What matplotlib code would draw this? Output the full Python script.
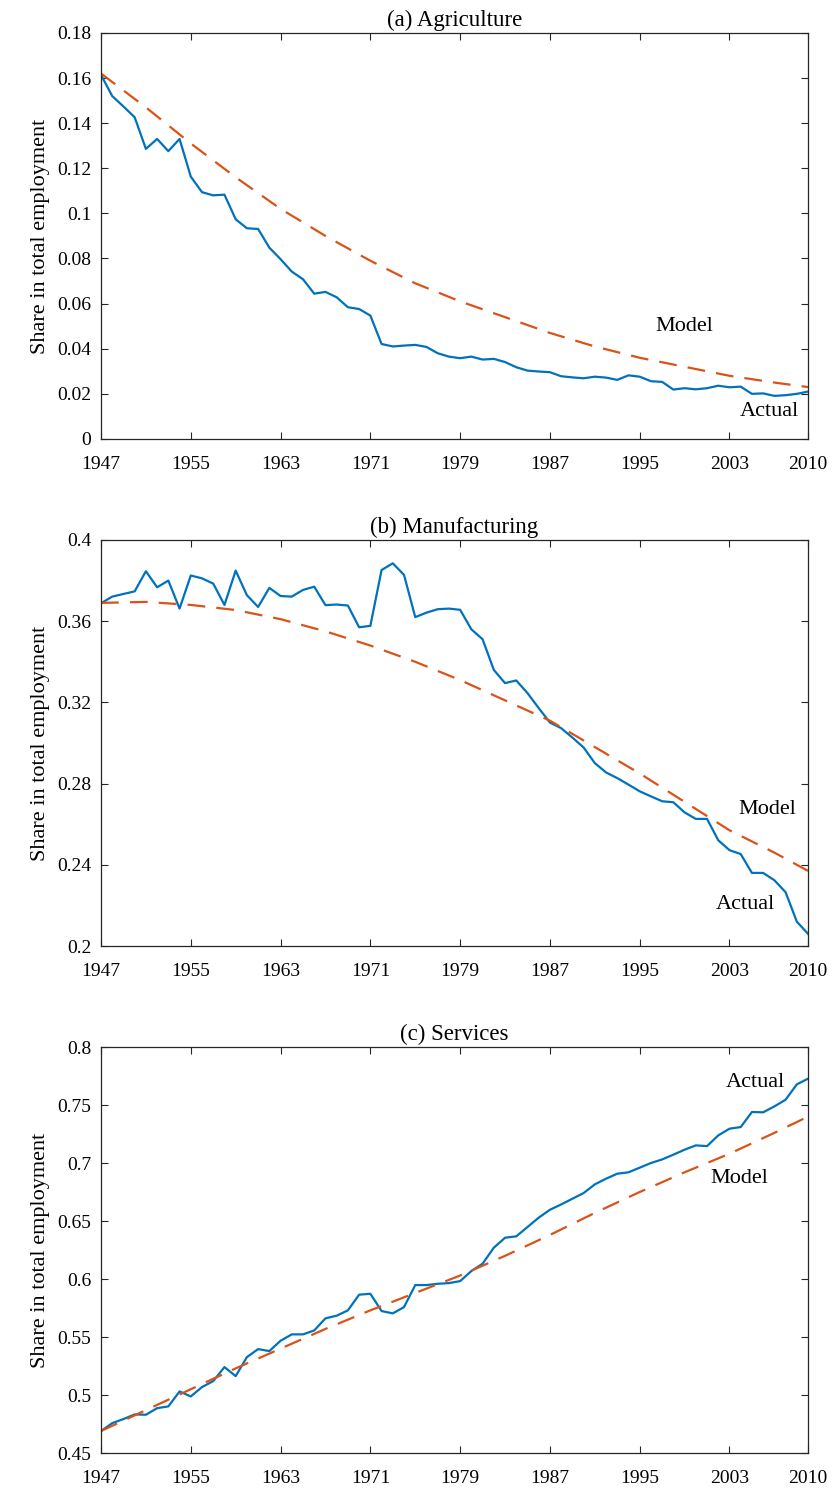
import numpy as np
import matplotlib
matplotlib.use("Agg")
import matplotlib.pyplot as plt

# years 1947..2010
years = list(range(1947, 2011))

agri_actual = [0.1614, 0.152, 0.1474, 0.1426, 0.1286, 0.133, 0.1276, 0.133, 0.1163, 0.1094,
               0.108, 0.1083, 0.0974, 0.0934, 0.0931, 0.0848, 0.0797, 0.0742, 0.0708, 0.0644,
               0.0652, 0.0628, 0.0584, 0.0576, 0.0547, 0.0421, 0.041, 0.0414, 0.0417, 0.0408,
               0.038, 0.0365, 0.0358, 0.0365, 0.0352, 0.0355, 0.0341, 0.0318, 0.0303, 0.0299,
               0.0296, 0.0278, 0.0273, 0.0269, 0.0276, 0.0272, 0.0262, 0.0282, 0.0276, 0.0256,
               0.0253, 0.0219, 0.0225, 0.022, 0.0225, 0.0236, 0.0229, 0.0232, 0.02, 0.0202,
               0.0191, 0.0194, 0.02, 0.021]

manu_actual = [0.3688, 0.3721, 0.3734, 0.3747, 0.3846, 0.3767, 0.38, 0.3662, 0.3825, 0.3811,
               0.3785, 0.368, 0.3849, 0.3728, 0.367, 0.3764, 0.3724, 0.3721, 0.3754, 0.377,
               0.3679, 0.3682, 0.3677, 0.357, 0.3577, 0.3852, 0.3885, 0.3828, 0.362, 0.3642,
               0.3659, 0.3662, 0.3656, 0.356, 0.3511, 0.336, 0.3295, 0.3308, 0.3246, 0.3172,
               0.3101, 0.3073, 0.3027, 0.2978, 0.2901, 0.2855, 0.2827, 0.2795, 0.2762, 0.2737,
               0.2713, 0.2708, 0.2658, 0.2626, 0.2626, 0.2521, 0.2472, 0.2453, 0.236, 0.236,
               0.2324, 0.2265, 0.212, 0.206]

serv_actual = [0.4689, 0.4758, 0.4793, 0.4833, 0.483, 0.4887, 0.4902, 0.5031, 0.4988, 0.5069,
               0.512, 0.5241, 0.5163, 0.5327, 0.5396, 0.5379, 0.5468, 0.5523, 0.5523, 0.5557,
               0.5661, 0.5684, 0.573, 0.5865, 0.5873, 0.5724, 0.5704, 0.5758, 0.5948, 0.5948,
               0.5959, 0.5965, 0.5982, 0.6069, 0.6132, 0.627, 0.6356, 0.6368, 0.6448, 0.6529,
               0.6597, 0.6643, 0.6692, 0.6741, 0.6816, 0.6865, 0.6908, 0.692, 0.696, 0.7,
               0.7031, 0.7072, 0.7115, 0.7152, 0.7146, 0.7238, 0.7296, 0.731, 0.744, 0.7437,
               0.7488, 0.7546, 0.7678, 0.7727]

# model curves read every 4 years
model_years = [1947, 1951, 1955, 1959, 1963, 1967, 1971, 1975, 1979, 1983, 1987, 1991,
               1995, 1999, 2003, 2007, 2010]
agri_model = [0.162, 0.147, 0.131, 0.116, 0.102, 0.090, 0.079, 0.069, 0.061, 0.054, 0.047,
              0.041, 0.036, 0.032, 0.028, 0.025, 0.023]
manu_model = [0.369, 0.3695, 0.368, 0.3655, 0.361, 0.355, 0.348, 0.340, 0.331, 0.321, 0.311,
              0.298, 0.285, 0.271, 0.257, 0.246, 0.237]
serv_model = [0.469, 0.487, 0.505, 0.523, 0.540, 0.557, 0.573, 0.588, 0.603, 0.620, 0.638,
              0.657, 0.675, 0.692, 0.708, 0.726, 0.740]

xticks = [1947, 1955, 1963, 1971, 1979, 1987, 1995, 2003, 2010]

titles = ["(a) Agriculture", "(b) Manufacturing", "(c) Services"]
ylims = [(0, 0.18), (0.2, 0.4), (0.45, 0.8)]
yticks = [np.arange(0, 0.181, 0.02), np.arange(0.2, 0.401, 0.04), np.arange(0.45, 0.801, 0.05)]
actuals = [agri_actual, manu_actual, serv_actual]
models = [agri_model, manu_model, serv_model]
# label positions (year, value)
model_lbl = [(1999.0, 0.0497), (2006.4, 0.2672), (2003.9, 0.6868)]
actual_lbl = [(2006.6, 0.012), (2004.4, 0.2204), (2005.3, 0.7696)]

plt.rcParams['font.family'] = ['Liberation Serif', 'DejaVu Serif']

fig = plt.figure(figsize=(8.32, 14.9), dpi=100)
rects = [[0.1214, 0.7054, 0.8498, 0.2725],
         [0.1214, 0.3651, 0.8498, 0.2725],
         [0.1214, 0.0248, 0.8498, 0.2725]]

blue = '#0072BD'
orange = '#D95319'

for i in range(3):
    ax = fig.add_axes(rects[i])
    ax.plot(years, actuals[i], color=blue, lw=1.6)
    ax.plot(model_years, models[i], color=orange, lw=1.6, dashes=(8, 5))
    ax.set_xlim(1947, 2010)
    ax.set_ylim(*ylims[i])
    ax.set_xticks(xticks)
    ax.set_yticks(yticks[i])
    ax.set_yticklabels(['%g' % round(v, 3) for v in yticks[i]])
    ax.tick_params(direction='in', top=True, right=True, labelsize=14, length=5,
                   color='#262626', width=0.8)
    ax.tick_params(axis='x', pad=12)
    ax.tick_params(axis='y', pad=7)
    for s in ax.spines.values():
        s.set_color('#262626')
        s.set_linewidth(0.9)
    ax.set_title(titles[i], fontsize=16.5, pad=5)
    ax.set_ylabel('Share in total employment', fontsize=16, labelpad=5)
    ax.text(model_lbl[i][0], model_lbl[i][1], 'Model', fontsize=16, ha='center', va='center')
    ax.text(actual_lbl[i][0], actual_lbl[i][1], 'Actual', fontsize=16, ha='center', va='center')

fig.savefig('out.png', dpi=100)
